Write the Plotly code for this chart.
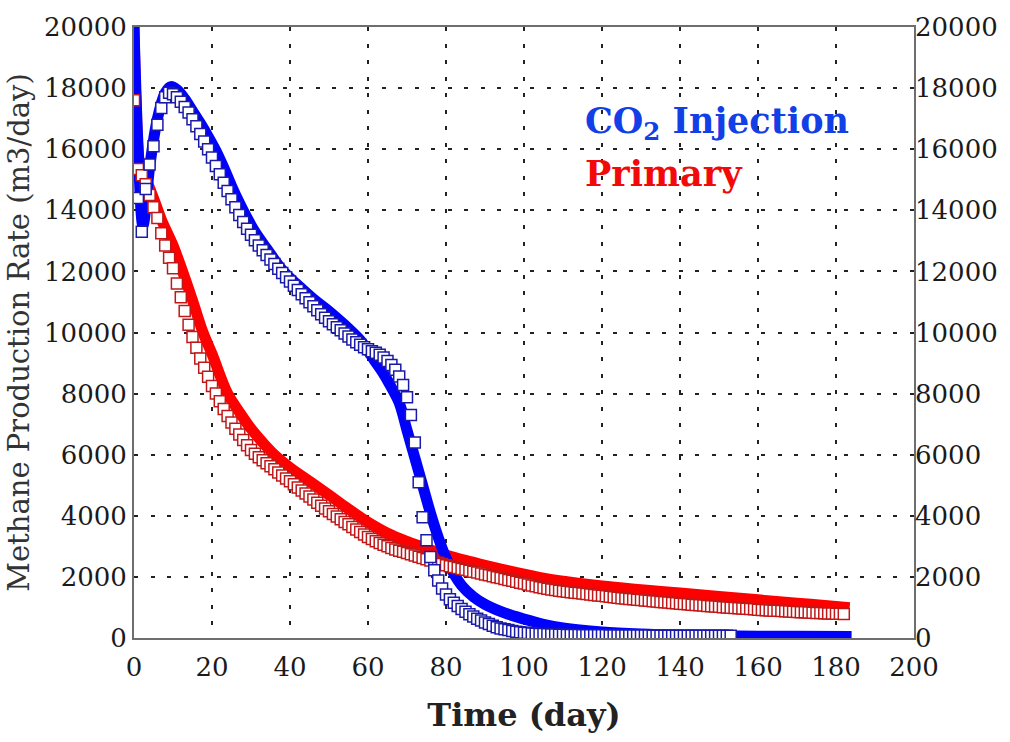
import plotly.graph_objects as go

# ---------------- data ----------------
# thick simulated curves (anchor points)
co2_line_t = [0, 1, 2.3, 4, 6, 8, 9.5, 11, 13, 15, 17, 19, 21, 23, 25, 27, 29, 31, 34, 38,
              42, 46, 50, 54, 58, 60, 62, 64, 66, 68, 70, 72, 74, 76, 78, 80, 82, 84, 87, 90,
              95, 100, 105, 110, 120, 130, 140, 150, 160, 170, 184]
co2_line_v = [20000, 16200, 13500, 15400, 17000, 17850, 18050, 17950, 17650, 17250, 16850, 16420,
              15950, 15400, 14800, 14250, 13750, 13300, 12750, 12050, 11550, 11100, 10700, 10250,
              9750, 9400, 9020, 8650, 8200, 7700, 6800, 5900, 5000, 4100, 3300, 2620, 2100, 1720,
              1350, 1100, 820, 620, 450, 330, 200, 130, 90, 70, 60, 55, 50]

pri_line_t = [0, 0.5, 1.5, 3, 5, 7, 10, 13, 15, 17.7, 20, 24, 27, 30, 33, 36, 40, 45, 50, 55,
              60, 65, 70, 75, 80, 85, 90, 95, 100, 105, 110, 120, 130, 140, 150, 160, 170, 180, 183.5]
pri_line_v = [20000, 17600, 15500, 15050, 14400, 13700, 12850, 11800, 11050, 10000, 9300, 8000,
              7400, 6850, 6400, 6000, 5580, 5130, 4680, 4220, 3790, 3430, 3160, 2930, 2720, 2540,
              2380, 2230, 2090, 1960, 1860, 1700, 1580, 1470, 1360, 1250, 1140, 1030, 990]

# open-square series (daily values)
co2_sq_day = list(range(1, 154))
co2_sq_v = [14400, 13300, 14700, 15500, 16100, 16800, 17350, 17700, 17850, 17800,
            17700, 17550, 17380, 17200, 16980, 16750, 16500, 16250, 16000, 15730,
            15450, 15180, 14900, 14630, 14360, 14100, 13850, 13620, 13400, 13200,
            13020, 12850, 12690, 12540, 12390, 12240, 12090, 11950, 11810, 11670,
            11530, 11390, 11250, 11120, 10990, 10860, 10730, 10600, 10480, 10370,
            10270, 10170, 10070, 9970, 9870, 9770, 9680, 9600, 9520, 9450,
            9390, 9340, 9270, 9180, 9070, 8940, 8780, 8560, 8280, 7880,
            7300, 6400, 5100, 3950, 3200, 2650, 2220, 1880, 1620, 1420,
            1270, 1150, 1050, 950, 860, 780, 700, 630, 570, 510,
            455, 405, 355, 310, 290, 260, 230, 205, 185, 170,
            160, 150, 142, 135, 128, 122, 117, 112, 108, 104,
            101, 99, 97, 95, 93, 91, 90, 89, 88, 87,
            86, 85, 84, 83, 82, 81, 80, 80, 79, 79,
            78, 78, 77, 77, 76, 76, 75, 75, 74, 74,
            73, 73, 72, 72, 71, 71, 70, 70, 70, 70,
            70, 70, 70]

pri_sq_day = list(range(0, 183))
pri_sq_v = [17600, 15350, 15150, 14850, 14500, 14100, 13750, 13250, 12850, 12450,
            12100, 11600, 11150, 10700, 10250, 9850, 9500, 9150, 8850, 8550,
            8250, 8000, 7750, 7500, 7270, 7050, 6850, 6660, 6480, 6310,
            6150, 6030, 5920, 5820, 5720, 5620, 5520, 5420, 5320, 5220,
            5130, 5030, 4930, 4830, 4730, 4630, 4530, 4430, 4330, 4240,
            4150, 4060, 3980, 3890, 3800, 3720, 3630, 3550, 3470, 3390,
            3310, 3240, 3170, 3110, 3050, 3000, 2950, 2900, 2860, 2820,
            2780, 2740, 2700, 2660, 2620, 2580, 2540, 2500, 2460, 2420,
            2380, 2350, 2320, 2290, 2260, 2230, 2200, 2170, 2140, 2110,
            2080, 2050, 2020, 1990, 1960, 1930, 1900, 1870, 1840, 1810,
            1780, 1750, 1720, 1690, 1660, 1635, 1610, 1590, 1570, 1550,
            1530, 1515, 1500, 1485, 1470, 1455, 1440, 1425, 1410, 1395,
            1380, 1365, 1350, 1335, 1320, 1305, 1290, 1278, 1266, 1254,
            1242, 1230, 1218, 1206, 1194, 1182, 1170, 1158, 1146, 1135,
            1124, 1113, 1102, 1091, 1080, 1070, 1060, 1050, 1040, 1030,
            1020, 1010, 1000, 991, 982, 973, 964, 955, 946, 937,
            928, 920, 912, 904, 896, 888, 880, 873, 866, 859,
            852, 846, 840, 834, 828, 822, 816, 810, 805, 800,
            795, 790, 785]

x_ticks = [0, 20, 40, 60, 80, 100, 120, 140, 160, 180, 200]
y_ticks = [0, 2000, 4000, 6000, 8000, 10000, 12000, 14000, 16000, 18000, 20000]

labels = ["CO<sub>2</sub> Injection", "Primary"]
label_colors = ["#1240e6", "#f20a0a"]
label_x = [115, 115]
label_y = [16850, 15200]

# ---------------- figure ----------------
BLUE = "#0000ff"
RED = "#ff0000"
SERIF = "DejaVu Serif"

fig = go.Figure()
fig.add_trace(go.Scatter(x=pri_line_t, y=pri_line_v, mode="lines", line_shape="spline",
                         line=dict(color=RED, width=11), showlegend=False, hoverinfo="skip"))
fig.add_trace(go.Scatter(x=co2_line_t, y=co2_line_v, mode="lines", line_shape="spline",
                         line=dict(color=BLUE, width=11), showlegend=False, hoverinfo="skip"))
fig.add_trace(go.Scatter(x=pri_sq_day, y=pri_sq_v, mode="markers",
                         marker=dict(symbol="square", size=11, color="white",
                                     line=dict(width=1.5, color="#c01818")),
                         showlegend=False))
fig.add_trace(go.Scatter(x=co2_sq_day, y=co2_sq_v, mode="markers",
                         marker=dict(symbol="square", size=11, color="white",
                                     line=dict(width=1.5, color="#1a1aa8")),
                         showlegend=False))
# empty trace so that the mirrored right-hand axis is drawn
fig.add_trace(go.Scatter(x=[], y=[], yaxis="y2", showlegend=False))

grid = dict(showgrid=True, gridcolor="#222222", gridwidth=2, griddash="4px,12.5px")
tickfont = dict(family=SERIF, size=26, color="#1a1a1a")
axis_common = dict(showline=True, linecolor="#6e6e6e", linewidth=2, zeroline=False,
                   ticks="", tickfont=tickfont, tickformat="d")

fig.update_layout(
    width=1010, height=742,
    margin=dict(l=134, r=94, t=22, b=104),
    paper_bgcolor="white", plot_bgcolor="white",
    xaxis=dict(range=[0, 200], tickvals=x_ticks, mirror=True, ticklabelstandoff=5,
               title=dict(text="<b>Time (day)</b>", standoff=22,
                          font=dict(family=SERIF, size=32, color="#222222")),
               **grid, **axis_common),
    yaxis=dict(range=[0, 20000], tickvals=y_ticks, mirror=True,
               title=dict(text="Methane Production Rate (m3/day)", standoff=6,
                          font=dict(family=SERIF, size=29, color="#333333")),
               **grid, **axis_common),
    yaxis2=dict(range=[0, 20000], tickvals=y_ticks, overlaying="y", side="right",
                showgrid=False, showline=False, zeroline=False, ticks="",
                tickfont=tickfont, tickformat="d"),
)

for txt, col, lx, ly in zip(labels, label_colors, label_x, label_y):
    fig.add_annotation(x=lx, y=ly, xref="x", yref="y", text=f"<b>{txt}</b>", showarrow=False,
                       xanchor="left", yanchor="middle",
                       font=dict(family=SERIF, size=35, color=col))

fig.write_html("out.html", config={"displayModeBar": False},
               post_script="document.body.style.margin='0';document.body.style.padding='0';")
